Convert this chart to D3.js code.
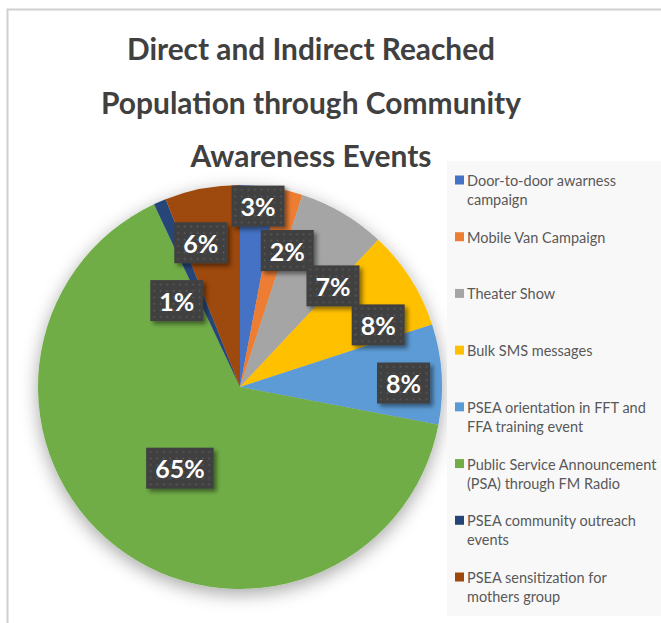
<!DOCTYPE html>
<html>
<head>
<meta charset="utf-8">
<script src="https://cdn.jsdelivr.net/npm/d3@7"></script>
<style>
  html, body { margin: 0; padding: 0; background: #ffffff; }
  svg { display: block; }
</style>
</head>
<body>
<svg id="chart" width="661" height="623"></svg>
<script>
// ---- data ----
const titleLines = ["Direct and Indirect Reached", "Population through Community", "Awareness Events"];
const categories = [
  "Door-to-door awarness campaign",
  "Mobile Van Campaign",
  "Theater Show",
  "Bulk SMS messages",
  "PSEA orientation in FFT and FFA training event",
  "Public Service Announcement (PSA) through FM Radio",
  "PSEA community outreach events",
  "PSEA sensitization for mothers group"
];
const values = [3, 2, 7, 8, 8, 65, 1, 6];
const colors = ["#4472C4", "#ED7D31", "#A5A5A5", "#FFC000", "#5B9BD5", "#70AD47", "#264478", "#9E480E"];
// words on first legend line
const legendFirstLineWords = [2, 3, 2, 3, 5, 3, 3, 3];
// label placement (angle in degrees from 12 o'clock, radius fraction)
const labelPlacement = [[5.7, 0.90], [19.1, 0.715], [42.6, 0.68], [65.8, 0.75], [88.6, 0.81], [216.5, 0.50], [323.8, 0.53], [344.8, 0.74]];

// ---- layout ----
const W = 661, H = 623;
const cx = 240, cy = 387, R = 202;
const svg = d3.select("#chart");
const defs = svg.append("defs");

// pie shadow
const f1 = defs.append("filter").attr("id", "pieShadow").attr("x", "-30%").attr("y", "-30%").attr("width", "160%").attr("height", "160%");
f1.append("feDropShadow").attr("dx", 0).attr("dy", 5).attr("stdDeviation", 9).attr("flood-color", "#000").attr("flood-opacity", 0.35);

// label shadow
const f2 = defs.append("filter").attr("id", "lblShadow").attr("x", "-30%").attr("y", "-30%").attr("width", "160%").attr("height", "160%");
f2.append("feDropShadow").attr("dx", 3).attr("dy", 3).attr("stdDeviation", 2).attr("flood-color", "#000").attr("flood-opacity", 0.45);

// dotted pattern for label boxes
const pat = defs.append("pattern").attr("id", "dots").attr("patternUnits", "userSpaceOnUse").attr("width", 6.5).attr("height", 6.5);
pat.append("rect").attr("width", 6.5).attr("height", 6.5).attr("fill", "#404040");
pat.append("rect").attr("x", 2.5).attr("y", 2.5).attr("width", 1.6).attr("height", 1.6).attr("fill", "#5c5c5c");

// border of chart area
svg.append("path")
  .attr("d", `M7.5,${H + 5} L7.5,9.5 L${W + 5},9.5`)
  .attr("fill", "none").attr("stroke", "#d0d0d0").attr("stroke-width", 2);

// title
const title = svg.append("g").attr("font-family", "Lato, 'Open Sans', sans-serif").attr("font-weight", "bold")
  .attr("fill", "#404040").attr("font-size", 30);
const titleWidths = [368, 420, 241];
titleLines.forEach((t, i) => {
  title.append("text").attr("x", 311).attr("y", 60 + i * 53.5).attr("text-anchor", "middle")
    .attr("textLength", titleWidths[i]).attr("lengthAdjust", "spacingAndGlyphs").text(t);
});

// pie
const pie = d3.pie().sort(null).value(d => d)(values);
const arc = d3.arc().innerRadius(0).outerRadius(R);
const pieG = svg.append("g").attr("transform", `translate(${cx},${cy})`).attr("filter", "url(#pieShadow)");
pieG.selectAll("path").data(pie).join("path")
  .attr("d", arc).attr("fill", (d, i) => colors[i]);

// legend
const legend = svg.append("g");
legend.append("rect").attr("x", 447).attr("y", 161).attr("width", W - 447 + 5).attr("height", 455).attr("fill", "#f8f8f8");
const yScale = d3.scaleLinear().domain([0, categories.length - 1]).range([186, 583]);
categories.forEach((c, i) => {
  const words = c.split(" ");
  const lines = [words.slice(0, legendFirstLineWords[i]).join(" "), words.slice(legendFirstLineWords[i]).join(" ")].filter(s => s);
  const y = yScale(i);
  legend.append("rect").attr("x", 455).attr("y", y - 10.5).attr("width", 9).attr("height", 9).attr("fill", colors[i]);
  lines.forEach((l, j) => {
    const t = legend.append("text").attr("x", 467).attr("y", y + j * 19)
      .attr("font-family", "Lato, 'Open Sans', sans-serif").attr("font-size", 14.5).attr("fill", "#595959").text(l);
    if (t.node().getComputedTextLength() > 191) {
      t.attr("textLength", 191).attr("lengthAdjust", "spacingAndGlyphs");
    }
  });
});

// data labels
const lblG = svg.append("g").attr("transform", `translate(${cx},${cy})`);
pie.forEach((d, i) => {
  const [deg, rf] = labelPlacement[i];
  const a = deg * Math.PI / 180;
  const x = Math.sin(a) * R * rf, y = -Math.cos(a) * R * rf;
  const g = lblG.append("g").attr("transform", `translate(${x},${y})`);
  const txt = d3.format(".0%")(d.data / 100);
  const t = g.append("text").attr("text-anchor", "middle").attr("dy", "0.36em").attr("y", 1)
    .attr("font-family", "Lato, 'Open Sans', sans-serif").attr("font-weight", "bold").attr("font-size", 25)
    .attr("fill", "#ffffff").text(txt);
  const bw = t.node().getComputedTextLength() + 18;
  g.insert("rect", "text").attr("x", -bw / 2).attr("y", -20.5).attr("width", bw).attr("height", 41)
    .attr("fill", "url(#dots)").attr("filter", "url(#lblShadow)");
});
</script>
</body>
</html>
